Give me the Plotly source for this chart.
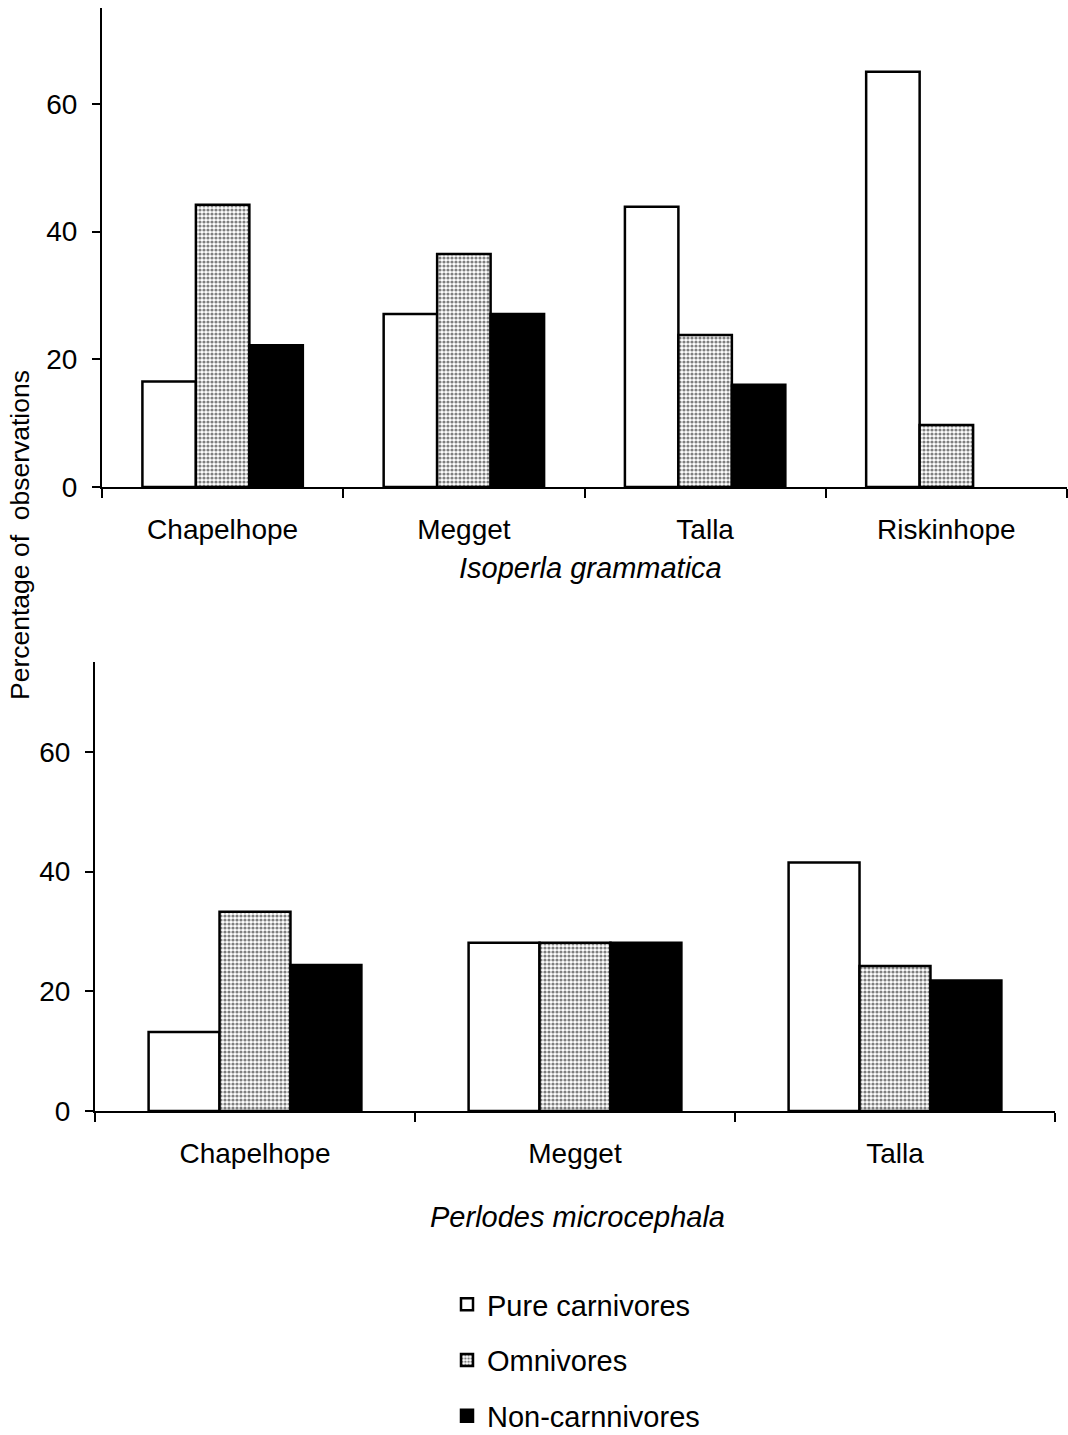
import plotly.graph_objects as go

# Feeding categories of stonefly nymphs at each site (% of observations)
series_names = ["Pure carnivores", "Omnivores", "Non-carnnivores"]

isoperla_sites = ["Chapelhope", "Megget", "Talla", "Riskinhope"]
isoperla_pure = [16.5, 27.1, 43.9, 65.0]
isoperla_omni = [44.2, 36.5, 23.8, 9.7]
isoperla_non = [22.2, 27.1, 16.0, None]

perlodes_sites = ["Chapelhope", "Megget", "Talla"]
perlodes_pure = [13.2, 28.1, 41.5]
perlodes_omni = [33.3, 28.1, 24.2]
perlodes_non = [24.4, 28.1, 21.8]

y_ticks = [0, 20, 40, 60]

FONT = "Liberation Sans, Arial, Helvetica, sans-serif"
W, H = 1068, 1435


def px_x(v):
    return v / W


def px_y(v):
    return 1 - v / H


styles = [
    dict(color="white", line=dict(color="black", width=2.5)),
    dict(color="white", line=dict(color="black", width=2.5),
         pattern=dict(shape=".", fgcolor="black", bgcolor="white",
                      size=4, solidity=0.5)),
    dict(color="black", line=dict(color="black", width=2.5)),
]

fig = go.Figure()

top_vals = [isoperla_pure, isoperla_omni, isoperla_non]
bot_vals = [perlodes_pure, perlodes_omni, perlodes_non]

for i, name in enumerate(series_names):
    fig.add_trace(go.Bar(
        x=isoperla_sites, y=top_vals[i], name=name, marker=styles[i],
        xaxis="x", yaxis="y", legendgroup=name, showlegend=True,
    ))
for i, name in enumerate(series_names):
    fig.add_trace(go.Bar(
        x=perlodes_sites, y=bot_vals[i], name=name, marker=styles[i],
        xaxis="x2", yaxis="y2", legendgroup=name, showlegend=False,
    ))

xaxis_common = dict(
    type="category", showline=True, linecolor="black", linewidth=2,
    ticks="outside", tickson="boundaries", ticklen=9, tickwidth=2,
    tickcolor="black", showgrid=False, zeroline=False,
    tickfont=dict(family=FONT, size=28, color="black"),
    ticklabelstandoff=16,
)
yaxis_common = dict(
    range=[0, 75], tickvals=y_ticks, showline=True, linecolor="black",
    linewidth=2, ticks="outside", ticklen=8, tickwidth=2, tickcolor="black",
    showgrid=False, zeroline=False,
    tickfont=dict(family=FONT, size=28, color="black"),
    ticklabelstandoff=9,
)

fig.update_layout(
    width=W, height=H,
    margin=dict(l=0, r=0, t=0, b=0, autoexpand=False),
    paper_bgcolor="white", plot_bgcolor="white",
    barmode="group", bargap=0.335, bargroupgap=0,
    font=dict(family=FONT, size=28, color="black"),
    xaxis=dict(domain=[px_x(102), px_x(1067)], anchor="y", **xaxis_common),
    yaxis=dict(domain=[px_y(487), px_y(8)], anchor="x", **yaxis_common),
    xaxis2=dict(domain=[px_x(95), px_x(1055)], anchor="y2", **xaxis_common),
    yaxis2=dict(domain=[px_y(1111), px_y(662)], anchor="x2", **yaxis_common),
    legend=dict(
        x=px_x(447), y=px_y(1279), xanchor="left", yanchor="top",
        orientation="v", tracegroupgap=15, itemwidth=30,
        font=dict(family=FONT, size=29, color="black"),
        bgcolor="rgba(0,0,0,0)",
    ),
    annotations=[
        dict(text="Percentage of  observations", textangle=-90,
             xref="paper", yref="paper", x=px_x(20), y=px_y(535),
             xanchor="center", yanchor="middle", showarrow=False,
             font=dict(family=FONT, size=26.5, color="black")),
        dict(text="<i>Isoperla grammatica</i>",
             xref="paper", yref="paper", x=px_x(590), y=px_y(568),
             xanchor="center", yanchor="middle", showarrow=False,
             font=dict(family=FONT, size=29, color="black")),
        dict(text="<i>Perlodes microcephala</i>",
             xref="paper", yref="paper", x=px_x(577), y=px_y(1217),
             xanchor="center", yanchor="middle", showarrow=False,
             font=dict(family=FONT, size=29, color="black")),
    ],
)

fig.write_html("out.html")
